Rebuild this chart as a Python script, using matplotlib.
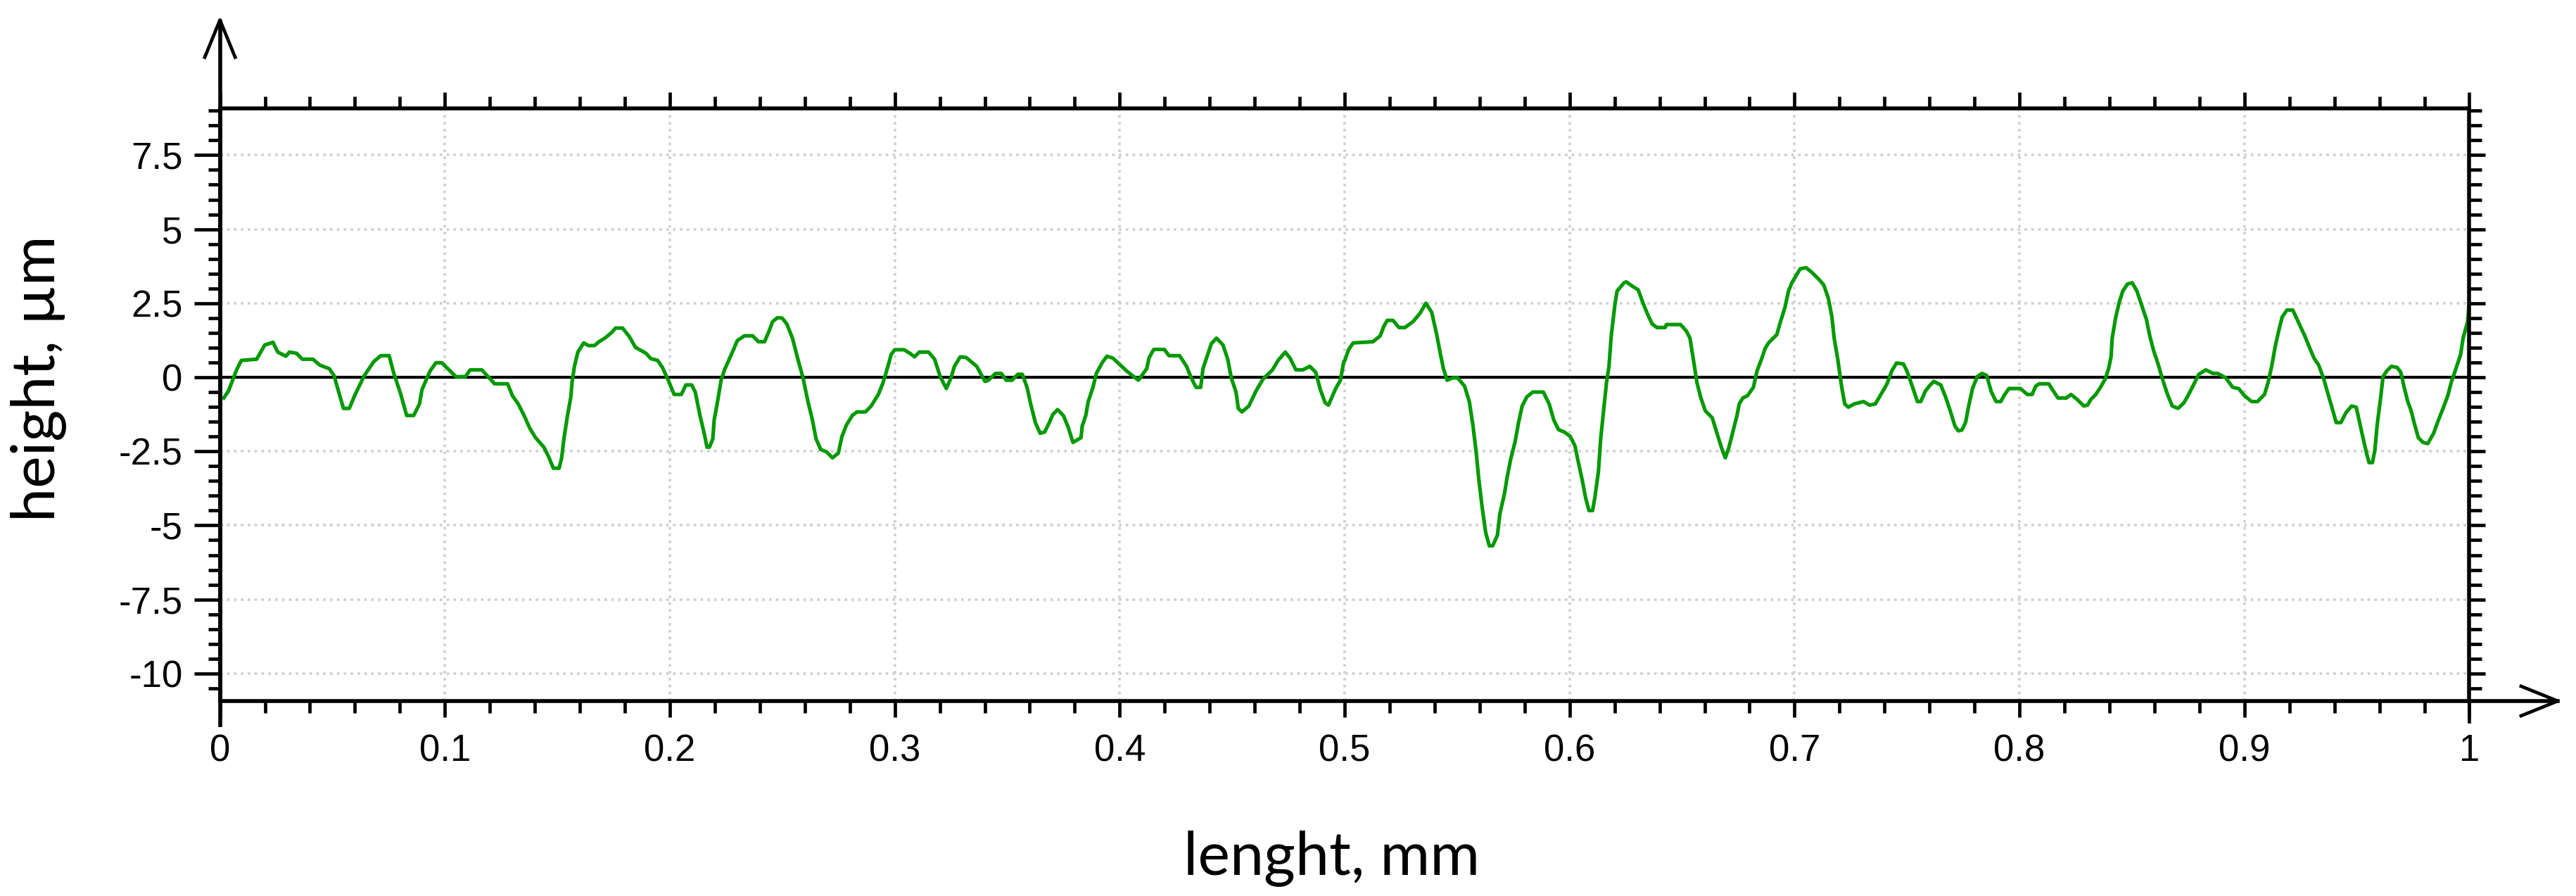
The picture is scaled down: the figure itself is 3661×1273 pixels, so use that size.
import matplotlib
matplotlib.use("Agg")
import matplotlib.pyplot as plt
from matplotlib.ticker import MultipleLocator, FixedLocator, FixedFormatter
from matplotlib.lines import Line2D

# ---------------- data ----------------
length_mm = [
    0.0017, 0.0038, 0.0074, 0.0095, 0.0163, 0.0199, 0.0236, 0.0257, 0.0293, 0.0309,
    0.0340, 0.0366, 0.0413, 0.0444, 0.0486, 0.0507, 0.0528, 0.0549, 0.0575, 0.0601,
    0.0642, 0.0684, 0.0715, 0.0752, 0.0773, 0.0804, 0.0830, 0.0861, 0.0887, 0.0898,
    0.0934, 0.0960, 0.0986, 0.1049, 0.1091, 0.1112, 0.1164, 0.1221, 0.1247, 0.1279,
    0.1300, 0.1326, 0.1352, 0.1378, 0.1403, 0.1440, 0.1461, 0.1482, 0.1508, 0.1519,
    0.1529, 0.1545, 0.1560, 0.1565, 0.1576, 0.1591, 0.1617, 0.1638, 0.1665, 0.1685,
    0.1711, 0.1743, 0.1758, 0.1790, 0.1821, 0.1847, 0.1894, 0.1915, 0.1946, 0.1967,
    0.1993, 0.2019, 0.2051, 0.2071, 0.2097, 0.2113, 0.2134, 0.2155, 0.2165, 0.2176,
    0.2191, 0.2197, 0.2212, 0.2228, 0.2243, 0.2264, 0.2285, 0.2300, 0.2332, 0.2368,
    0.2394, 0.2421, 0.2441, 0.2457, 0.2478, 0.2499, 0.2520, 0.2545, 0.2572, 0.2592,
    0.2614, 0.2634, 0.2650, 0.2671, 0.2697, 0.2723, 0.2749, 0.2765, 0.2785, 0.2811,
    0.2832, 0.2869, 0.2895, 0.2927, 0.2948, 0.2968, 0.2984, 0.3000, 0.3041, 0.3067,
    0.3088, 0.3109, 0.3150, 0.3177, 0.3202, 0.3229, 0.3250, 0.3265, 0.3291, 0.3317,
    0.3364, 0.3401, 0.3416, 0.3448, 0.3474, 0.3495, 0.3521, 0.3547, 0.3567, 0.3588,
    0.3604, 0.3625, 0.3646, 0.3666, 0.3687, 0.3703, 0.3724, 0.3750, 0.3771, 0.3792,
    0.3828, 0.3833, 0.3849, 0.3860, 0.3881, 0.3896, 0.3922, 0.3943, 0.3969, 0.4031,
    0.4083, 0.4120, 0.4130, 0.4151, 0.4198, 0.4219, 0.4266, 0.4297, 0.4318, 0.4339,
    0.4360, 0.4370, 0.4391, 0.4407, 0.4430, 0.4459, 0.4480, 0.4496, 0.4517, 0.4527,
    0.4543, 0.4574, 0.4606, 0.4637, 0.4679, 0.4704, 0.4736, 0.4757, 0.4783, 0.4814,
    0.4845, 0.4871, 0.4892, 0.4913, 0.4928, 0.4960, 0.4981, 0.4996, 0.5001, 0.5017,
    0.5038, 0.5126, 0.5158, 0.5174, 0.5189, 0.5215, 0.5241, 0.5268, 0.5304, 0.5335,
    0.5361, 0.5387, 0.5408, 0.5424, 0.5439, 0.5455, 0.5481, 0.5502, 0.5533, 0.5554,
    0.5570, 0.5585, 0.5596, 0.5611, 0.5627, 0.5643, 0.5658, 0.5679, 0.5690, 0.5711,
    0.5721, 0.5737, 0.5758, 0.5773, 0.5789, 0.5810, 0.5836, 0.5883, 0.5909, 0.5930,
    0.5951, 0.5977, 0.6003, 0.6024, 0.6039, 0.6055, 0.6071, 0.6086, 0.6102, 0.6112,
    0.6128, 0.6138, 0.6154, 0.6164, 0.6175, 0.6185, 0.6201, 0.6211, 0.6242, 0.6252,
    0.6284, 0.6305, 0.6326, 0.6347, 0.6367, 0.6388, 0.6425, 0.6430, 0.6493, 0.6519,
    0.6535, 0.6550, 0.6566, 0.6582, 0.6603, 0.6634, 0.6655, 0.6676, 0.6692, 0.6707,
    0.6728, 0.6744, 0.6754, 0.6770, 0.6791, 0.6817, 0.6833, 0.6853, 0.6869, 0.6884,
    0.6921, 0.6936, 0.6957, 0.6973, 0.6988, 0.7009, 0.7025, 0.7051, 0.7077, 0.7109,
    0.7130, 0.7150, 0.7166, 0.7176, 0.7192, 0.7208, 0.7223, 0.7239, 0.7265, 0.7307,
    0.7333, 0.7359, 0.7390, 0.7411, 0.7432, 0.7453, 0.7484, 0.7500, 0.7525, 0.7546,
    0.7561, 0.7582, 0.7603, 0.7619, 0.7650, 0.7671, 0.7692, 0.7713, 0.7728, 0.7744,
    0.7760, 0.7776, 0.7791, 0.7812, 0.7833, 0.7854, 0.7875, 0.7896, 0.7917, 0.7931,
    0.7953, 0.8004, 0.8035, 0.8056, 0.8072, 0.8088, 0.8130, 0.8150, 0.8171, 0.8208,
    0.8229, 0.8255, 0.8286, 0.8302, 0.8318, 0.8339, 0.8360, 0.8381, 0.8396, 0.8407,
    0.8412, 0.8428, 0.8444, 0.8459, 0.8480, 0.8501, 0.8522, 0.8543, 0.8564, 0.8579,
    0.8595, 0.8616, 0.8637, 0.8658, 0.8679, 0.8705, 0.8731, 0.8752, 0.8776, 0.8797,
    0.8828, 0.8860, 0.8881, 0.8917, 0.8948, 0.8974, 0.9000, 0.9032, 0.9058, 0.9089,
    0.9105, 0.9121, 0.9136, 0.9152, 0.9168, 0.9189, 0.9215, 0.9241, 0.9268, 0.9289,
    0.9309, 0.9330, 0.9351, 0.9372, 0.9387, 0.9408, 0.9429, 0.9450, 0.9476, 0.9497,
    0.9512, 0.9528, 0.9544, 0.9554, 0.9569, 0.9580, 0.9590, 0.9606, 0.9616, 0.9632,
    0.9653, 0.9679, 0.9695, 0.9710, 0.9726, 0.9741, 0.9757, 0.9773, 0.9794, 0.9815,
    0.9841, 0.9862, 0.9883, 0.9904, 0.9919, 0.9940, 0.9961, 0.9972, 0.9992, 1.0000,
]

height_um = [
    -0.70, -0.46, 0.25, 0.57, 0.61, 1.09, 1.18, 0.85, 0.71, 0.85,
    0.81, 0.61, 0.61, 0.41, 0.29, 0.06, -0.50, -1.05, -1.05, -0.58,
    0.06, 0.53, 0.73, 0.73, 0.13, -0.58, -1.29, -1.29, -0.90, -0.42,
    0.21, 0.49, 0.49, 0.02, 0.02, 0.25, 0.25, -0.22, -0.22, -0.22,
    -0.62, -0.90, -1.29, -1.73, -2.04, -2.36, -2.68, -3.07, -3.07, -2.72,
    -2.08, -1.29, -0.66, -0.18, 0.37, 0.85, 1.16, 1.07, 1.07, 1.20,
    1.32, 1.52, 1.66, 1.66, 1.36, 1.01, 0.81, 0.63, 0.57, 0.33,
    -0.10, -0.58, -0.58, -0.26, -0.26, -0.50, -1.29, -1.97, -2.36, -2.36,
    -2.08, -1.45, -0.82, -0.10, 0.25, 0.61, 0.97, 1.24, 1.40, 1.40,
    1.20, 1.20, 1.56, 1.88, 2.01, 2.00, 1.80, 1.32, 0.53, -0.02,
    -0.82, -1.45, -2.08, -2.44, -2.52, -2.72, -2.56, -2.00, -1.61, -1.29,
    -1.17, -1.17, -0.97, -0.58, -0.18, 0.33, 0.77, 0.93, 0.93, 0.81,
    0.69, 0.85, 0.85, 0.61, 0.02, -0.38, -0.02, 0.37, 0.69, 0.67,
    0.37, -0.14, -0.10, 0.13, 0.13, -0.10, -0.10, 0.10, 0.10, -0.34,
    -0.90, -1.53, -1.89, -1.85, -1.53, -1.25, -1.09, -1.30, -1.69, -2.20,
    -2.04, -1.65, -1.29, -0.82, -0.34, 0.13, 0.49, 0.71, 0.65, 0.21,
    -0.10, 0.29, 0.65, 0.94, 0.94, 0.73, 0.73, 0.37, -0.02, -0.34,
    -0.34, 0.29, 0.77, 1.13, 1.32, 1.09, 0.61, -0.02, -0.50, -1.05,
    -1.17, -0.97, -0.46, -0.06, 0.25, 0.57, 0.85, 0.65, 0.25, 0.25,
    0.37, 0.17, -0.42, -0.86, -0.94, -0.38, -0.10, 0.53, 0.57, 0.93,
    1.16, 1.20, 1.40, 1.72, 1.92, 1.92, 1.68, 1.68, 1.88, 2.16,
    2.50, 2.19, 1.48, 0.85, 0.29, -0.10, -0.02, -0.02, -0.30, -0.82,
    -1.61, -2.56, -3.43, -4.38, -5.25, -5.69, -5.69, -5.33, -4.61, -3.91,
    -3.43, -2.80, -2.16, -1.53, -0.97, -0.66, -0.50, -0.50, -0.90, -1.45,
    -1.77, -1.85, -2.00, -2.32, -2.88, -3.43, -4.07, -4.50, -4.50, -4.07,
    -3.19, -2.08, -0.90, -0.18, 0.37, 1.40, 2.43, 2.91, 3.19, 3.22,
    3.05, 2.95, 2.51, 2.12, 1.80, 1.68, 1.68, 1.78, 1.78, 1.56,
    1.32, 0.61, -0.18, -0.66, -1.13, -1.37, -1.89, -2.40, -2.72, -2.40,
    -1.77, -1.29, -0.90, -0.70, -0.62, -0.34, 0.21, 0.61, 0.97, 1.16,
    1.44, 1.84, 2.35, 2.91, 3.19, 3.46, 3.66, 3.70, 3.54, 3.30,
    3.11, 2.67, 2.04, 1.32, 0.61, -0.26, -0.90, -1.01, -0.90, -0.82,
    -0.94, -0.90, -0.50, -0.22, 0.21, 0.48, 0.45, 0.20, -0.34, -0.82,
    -0.82, -0.46, -0.26, -0.14, -0.26, -0.66, -1.13, -1.65, -1.81, -1.78,
    -1.53, -0.90, -0.38, 0.02, 0.13, 0.06, -0.50, -0.82, -0.82, -0.62,
    -0.38, -0.38, -0.58, -0.58, -0.30, -0.22, -0.22, -0.46, -0.70, -0.70,
    -0.58, -0.74, -0.97, -0.94, -0.74, -0.58, -0.34, -0.06, 0.29, 0.69,
    1.32, 2.04, 2.55, 2.91, 3.15, 3.19, 2.91, 2.43, 1.96, 1.40,
    0.93, 0.45, -0.10, -0.58, -0.97, -1.05, -0.86, -0.58, -0.22, 0.10,
    0.25, 0.13, 0.13, -0.02, -0.34, -0.38, -0.62, -0.82, -0.82, -0.58,
    -0.18, 0.37, 1.01, 1.56, 2.04, 2.27, 2.27, 1.84, 1.40, 1.01,
    0.65, 0.41, -0.02, -0.58, -0.97, -1.53, -1.53, -1.21, -0.97, -1.01,
    -1.53, -2.08, -2.60, -2.88, -2.88, -2.44, -1.61, -0.66, 0.02, 0.21,
    0.37, 0.33, 0.17, -0.34, -0.82, -1.13, -1.61, -2.04, -2.20, -2.24,
    -1.89, -1.45, -1.05, -0.62, -0.18, 0.29, 0.77, 1.32, 1.88, 2.59,
]

x_ticks = [0, 0.1, 0.2, 0.3, 0.4, 0.5, 0.6, 0.7, 0.8, 0.9, 1]
x_tick_labels = ["0", "0.1", "0.2", "0.3", "0.4", "0.5", "0.6", "0.7", "0.8", "0.9", "1"]
y_ticks = [-10, -7.5, -5, -2.5, 0, 2.5, 5, 7.5]
y_tick_labels = ["-10", "-7.5", "-5", "-2.5", "0", "2.5", "5", "7.5"]
x_label = "lenght, mm"
y_label = "height, µm"

# ---------------- figure ----------------
W, H, DPI = 3662, 1273, 100
fig = plt.figure(figsize=(W / DPI, H / DPI), dpi=DPI)
fig.patch.set_facecolor("white")

ax_l, ax_r, ax_t, ax_b = 312.6, 3509.5, 154.3, 996.0
ax = fig.add_axes([ax_l / W, (H - ax_b) / H, (ax_r - ax_l) / W, (ax_b - ax_t) / H])
ax.set_xlim(0, 1)
ax.set_ylim(-10.93, 9.07)

tick_family = ["Liberation Sans", "DejaVu Sans"]
label_family = ["Lato", "DejaVu Sans"]
TICK_FS = 38
LABEL_FS = 62

# grid
ax.xaxis.set_major_locator(FixedLocator(x_ticks))
ax.yaxis.set_major_locator(FixedLocator(y_ticks))
ax.xaxis.set_minor_locator(MultipleLocator(0.02))
ax.yaxis.set_minor_locator(MultipleLocator(0.5))
ax.xaxis.set_major_formatter(FixedFormatter(x_tick_labels))
ax.yaxis.set_major_formatter(FixedFormatter(y_tick_labels))
ax.grid(True, which="major", color="#cfcfcf", linewidth=2.6, linestyle=(0, (1, 1.7)))
ax.set_axisbelow(True)

# zero line and profile
ax.axhline(0, color="black", linewidth=3.0, zorder=2)
ax.plot(length_mm, height_um, color="#009900", linewidth=3.7, zorder=3)

# spines
for s in ax.spines.values():
    s.set_linewidth(4.0)
    s.set_color("black")
    s.set_zorder(4)

TW = 3.4
# ticks
ax.tick_params(axis="x", which="major", direction="out", length=16.3, width=TW,
               top=True, bottom=True, pad=17.0, labelsize=TICK_FS, colors="black")
ax.tick_params(axis="x", which="minor", direction="out", length=12.2, width=TW,
               top=True, bottom=True)
ax.tick_params(axis="y", which="major", direction="out", length=27, width=TW,
               left=True, right=False, pad=11.2, labelsize=TICK_FS)
ax.tick_params(axis="y", which="minor", direction="out", length=12.2, width=TW,
               left=True, right=False)
for lab in ax.get_xticklabels() + ax.get_yticklabels():
    lab.set_fontfamily(tick_family)
    lab.set_fontsize(TICK_FS)

# right-side ticks via twin
ax2 = ax.twinx()
ax2.set_ylim(ax.get_ylim())
ax2.yaxis.set_major_locator(FixedLocator(y_ticks))
ax2.yaxis.set_minor_locator(MultipleLocator(0.5))
ax2.tick_params(axis="y", which="major", direction="out", length=16.2, width=TW,
                labelright=False, right=True)
ax2.tick_params(axis="y", which="minor", direction="out", length=13, width=TW, right=True)
for s in ax2.spines.values():
    s.set_visible(False)

# axis lines with open arrow heads (axes-fraction coordinates)
aw, ah = ax_r - ax_l, ax_b - ax_t
lw_arrow = 3.4
tr = ax.transAxes
ax.add_line(Line2D([0, 0], [-37 / ah, 1 + (ax_t - 28.4) / ah], transform=tr,
                   color="black", lw=4.0, clip_on=False, solid_capstyle="butt"))
ax.add_line(Line2D([-21.6 / aw, 0, 21.6 / aw],
                   [1 + (ax_t - 81.4) / ah, 1 + (ax_t - 28.4) / ah, 1 + (ax_t - 81.4) / ah],
                   transform=tr, color="black", lw=lw_arrow, clip_on=False))
ax.add_line(Line2D([1, 1 + (3635 - ax_r) / aw], [0, 0], transform=tr,
                   color="black", lw=4.0, clip_on=False))
ax.add_line(Line2D([1 + (3583 - ax_r) / aw, 1 + (3635 - ax_r) / aw, 1 + (3583 - ax_r) / aw],
                   [21 / ah, 0, -21 / ah],
                   transform=tr, color="black", lw=lw_arrow, clip_on=False))
ax.add_line(Line2D([1, 1], [0, -29 / ah], transform=tr, color="black", lw=TW,
                   clip_on=False))

# axis labels
fig.text(1893 / W, (H - 1242) / H, x_label, ha="center", va="baseline",
         fontsize=LABEL_FS, family=label_family, color="black")
fig.text(54 / W, (H - 538) / H, y_label, ha="center", va="center", rotation=90,
         fontsize=LABEL_FS, family=label_family, color="black")

fig.savefig("out.png", dpi=DPI, facecolor="white")
